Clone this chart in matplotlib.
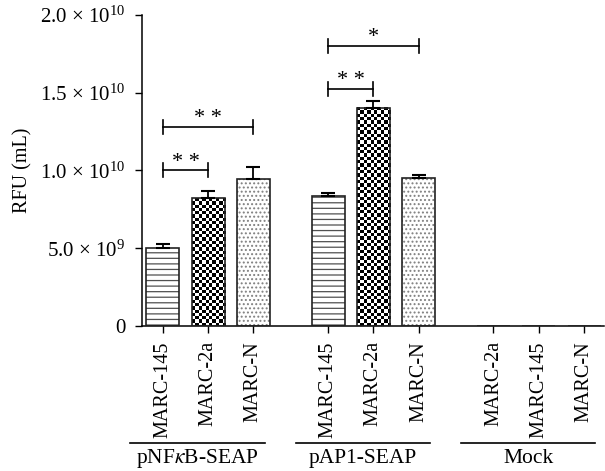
import numpy as np
import matplotlib

matplotlib.use('Agg')
import matplotlib.pyplot as plt
from matplotlib.transforms import blended_transform_factory

plt.rcParams['font.family'] = ['Liberation Serif', 'DejaVu Serif']
plt.rcParams['mathtext.fontset'] = 'stix'
plt.rcParams['hatch.linewidth'] = 0.9

# data
cell_labels = ['MARC-145', 'MARC-2a', 'MARC-N',
               'MARC-145', 'MARC-2a', 'MARC-N',
               'MARC-2a', 'MARC-145', 'MARC-N']
rfu = [5.0e9, 8.2e9, 9.45e9, 8.35e9, 1.405e10, 9.5e9, 0, 0, 0]
rfu_err = [0.25e9, 0.45e9, 0.8e9, 0.22e9, 0.45e9, 0.2e9, 0, 0, 0]
xpos = [0, 1, 2, 3.65, 4.65, 5.65, 7.3, 8.3, 9.3]

group_names = ['pNF$\\kappa$B-SEAP', 'pAP1-SEAP', 'Mock']
group_members = [[0, 1, 2], [3, 4, 5], [6, 7, 8]]

# significance: (bar a, bar b, height, stars)
sig_pairs = [(0, 1, 1.0e10, '* *'), (0, 2, 1.28e10, '* *'),
             (3, 4, 1.525e10, '* *'), (3, 5, 1.8e10, '*')]

yticks = [0, 5e9, 1e10, 1.5e10, 2e10]
yticklabels = ['0', '5.0 × 10$^{\\mathregular{9}}$', '1.0 × 10$^{\\mathregular{10}}$',
               '1.5 × 10$^{\\mathregular{10}}$', '2.0 × 10$^{\\mathregular{10}}$']

bar_w = 0.73

fig = plt.figure(figsize=(6.05, 4.71), dpi=100)
ax = fig.add_axes((0.2347, 0.3079, 0.7636, 0.6603))
ax.set_xlim(-0.46, 9.74)
ax.set_ylim(0, 2e10)

# pixels per data unit, for the checker cells
p0 = ax.transData.transform((0, 0))
p1 = ax.transData.transform((1, 1e10))
px_x = p1[0] - p0[0]
px_y = (p1[1] - p0[1]) / 1e10

for i, lab in enumerate(cell_labels):
    x, h = xpos[i], rfu[i]
    left = x - bar_w / 2
    if lab == 'MARC-145':
        ax.bar(x, h, bar_w, color='white', edgecolor='#505050', hatch='---', linewidth=0, zorder=2)
    elif lab == 'MARC-N':
        ax.bar(x, h, bar_w, color='white', edgecolor='#808080', hatch='....', linewidth=0, zorder=2)
    elif lab == 'MARC-2a' and h > 0:
        ncol = 10
        cell_px = bar_w * px_x / ncol
        nrow = max(1, int(round(h * px_y / cell_px)))
        board = np.indices((nrow, ncol)).sum(axis=0) % 2
        ax.imshow(board, cmap='gray_r', extent=(left, left + bar_w, 0, h), origin='lower',
                  aspect='auto', interpolation='nearest', zorder=2)
    ax.bar(x, h, bar_w, color='none', edgecolor='#222222', linewidth=1.2, zorder=3)

ax.set_xlim(-0.46, 9.74)
ax.set_ylim(0, 2e10)

# one sided error bars
xe = [xpos[i] for i in range(len(rfu)) if rfu[i] > 0]
ye = [rfu[i] for i in range(len(rfu)) if rfu[i] > 0]
ee = [rfu_err[i] for i in range(len(rfu)) if rfu[i] > 0]
ax.errorbar(xe, ye, yerr=[np.zeros(len(ee)), ee], fmt='none', ecolor='black',
            elinewidth=1.3, capsize=5, capthick=1.5, zorder=4)

# significance brackets
for a, b, yb, stars in sig_pairs:
    ax.plot([xpos[a], xpos[b]], [yb, yb], color='black', lw=1.2, zorder=4)
    for xb in (xpos[a], xpos[b]):
        ax.plot([xb, xb], [yb - 7 / px_y, yb + 7 / px_y], color='black', lw=1.2, zorder=4)
    ax.annotate(stars, xy=((xpos[a] + xpos[b]) / 2, yb), xytext=(0, 6), textcoords='offset points',
                ha='center', va='center', fontsize=16)

ax.set_yticks(yticks)
ax.set_yticklabels(yticklabels, fontsize=15)
ax.set_xticks(xpos)
ax.set_xticklabels(cell_labels, rotation=90, fontsize=14.5)
ax.tick_params(axis='both', direction='out', length=5, width=1, color='black')
ax.tick_params(axis='y', pad=7)
ax.tick_params(axis='x', pad=6)
ax.set_ylabel('RFU (mL)', fontsize=14.5)
ax.yaxis.set_label_coords(-0.237, 0.5)

for side in ('top', 'right'):
    ax.spines[side].set_visible(False)
for side in ('left', 'bottom'):
    ax.spines[side].set_linewidth(1.1)

# group lines and names under the tick labels
tr = blended_transform_factory(ax.transData, ax.transAxes)
for name, members in zip(group_names, group_members):
    x0 = xpos[members[0]] - 0.72
    x1 = xpos[members[-1]] + 0.25
    ax.plot([x0, x1], [-0.376, -0.376], color='black', lw=1.2, transform=tr, clip_on=False)
    ax.text((x0 + x1) / 2, -0.425, name, transform=tr, ha='center', va='center', fontsize=15.5)

fig.savefig('out.png', dpi=100)
